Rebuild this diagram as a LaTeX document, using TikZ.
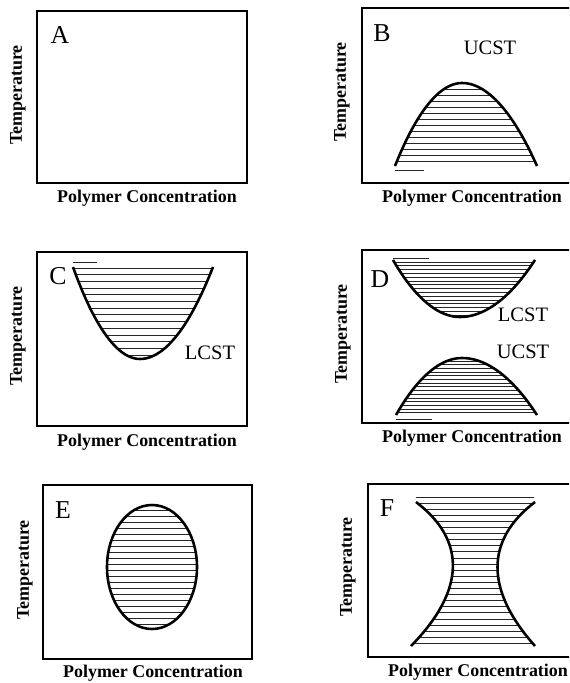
\documentclass[tikz,border=0pt]{standalone}
\usepackage{fontspec}
\setmainfont{Liberation Serif}
\usepackage{tikz}

\begin{document}
\begin{tikzpicture}[
  x=0.3mm, y=-0.3mm,
  every node/.style={inner sep=0pt},
  frame/.style={draw=black, line width=2.4pt},
  curve/.style={black, line width=2.2pt},
  hatch/.style={black!85, line width=0.8pt},
  panel/.style={font=\fontsize{22}{24}\selectfont},
  crit/.style={font=\fontsize{17.5}{19}\selectfont},
  xlab/.style={font=\fontsize{15.3}{17}\selectfont\bfseries},
  ylab/.style={font=\fontsize{15.3}{17}\selectfont\bfseries, rotate=90}
]
\useasboundingbox (0,0) rectangle (569,683);
\clip (0,0) rectangle (569,683);

% A: one phase everywhere
\draw[frame] (37,11) rectangle (247,183);
\node[panel] (labA) at (60,35) {A};
\node[ylab] (tA) at (18,95) {Temperature};
\node[xlab] (pA) at (147,198) {Polymer Concentration};

% B: upper critical point
\draw[frame] (362,8) rectangle (574,183);
\begin{scope}
  \clip (395,166) parabola bend (462,83) (537,166) -- cycle;
  \foreach \y in {89,95,...,167}
    \draw[hatch] (380,\y) -- (550,\y);
\end{scope}
\draw[curve] (395,166) parabola bend (462,83) (537,166);
\draw[hatch] (395,170) -- (424,170);
\node[panel] (labB) at (382,33) {B};
\node[crit] (ucB) at (490,48) {UCST};
\node[ylab] (tB) at (342,92) {Temperature};
\node[xlab] (pB) at (472,198) {Polymer Concentration};

% C: lower critical point
\draw[frame] (37,252) rectangle (247,426);
\begin{scope}
  \clip (73,267) parabola bend (140,359) (213,267) -- cycle;
  \foreach \y in {268,274.7,...,357}
    \draw[hatch] (60,\y) -- (230,\y);
\end{scope}
\draw[curve] (73,267) parabola bend (140,359) (213,267);
\draw[hatch] (73,262) -- (97,262);
\node[panel] (labC) at (58,276) {C};
\node[crit] (lcC) at (210,353) {LCST};
\node[ylab] (tC) at (18,336) {Temperature};
\node[xlab] (pC) at (147,442) {Polymer Concentration};

% D: both
\draw[frame] (362,250) rectangle (574,423);
\begin{scope}
  \clip (393,260) parabola bend (460,317) (535,260) -- cycle;
  \foreach \y in {262,265.8,...,317}
    \draw[hatch] (380,\y) -- (550,\y);
\end{scope}
\begin{scope}
  \clip (396,415) parabola bend (462,358) (537,415) -- cycle;
  \foreach \y in {361,364.7,...,416}
    \draw[hatch] (380,\y) -- (550,\y);
\end{scope}
\draw[curve] (393,260) parabola bend (460,317) (535,260);
\draw[curve] (396,415) parabola bend (462,358) (537,415);
\draw[hatch] (393,258) -- (429,258);
\draw[hatch] (396,419) -- (432,419);
\node[panel] (labD) at (380,279) {D};
\node[crit] (lcD) at (523,315) {LCST};
\node[crit] (ucD) at (523,352) {UCST};
\node[ylab] (tD) at (343,334) {Temperature};
\node[xlab] (pD) at (472,438) {Polymer Concentration};

% E: closed loop
\draw[frame] (43,485) rectangle (252,659);
\begin{scope}
  \clip (152,567) ellipse [x radius=45, y radius=62];
  \foreach \y in {510,516,...,630}
    \draw[hatch] (100,\y) -- (200,\y);
\end{scope}
\draw[curve] (152,567) ellipse [x radius=45, y radius=62];
\node[panel] (labE) at (63,510) {E};
\node[ylab] (tE) at (25,570) {Temperature};
\node[xlab] (pE) at (153,673) {Polymer Concentration};

% F: hourglass
\draw[frame] (368,484) rectangle (574,657);
\begin{scope}
  \clip (416,497) -- (534,497) -- (535,502)
    .. controls (485,540) and (485,590) .. (535,646)
    -- (411,646)
    .. controls (466,590) and (466,540) .. (416,502) -- cycle;
  \foreach \y in {497,503.1,...,647}
    \draw[hatch] (400,\y) -- (550,\y);
\end{scope}
\draw[curve] (416,502) .. controls (466,540) and (466,590) .. (411,646);
\draw[curve] (535,502) .. controls (485,540) and (485,590) .. (535,646);
\node[panel] (labF) at (387,508) {F};
\node[ylab] (tF) at (348,567) {Temperature};
\node[xlab] (pF) at (478,672) {Polymer Concentration};
\end{tikzpicture}
\end{document}
